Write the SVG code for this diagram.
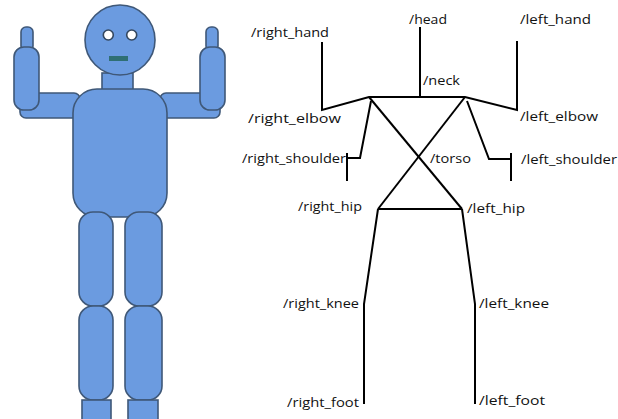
<svg xmlns="http://www.w3.org/2000/svg" width="618" height="419" viewBox="0 0 618 419">
  <style>
    .part { fill: #6b9be0; stroke: #3f5878; stroke-width: 1.6; }
    .bone { fill: none; stroke: #000; stroke-width: 2; stroke-linejoin: miter; stroke-linecap: butt; }
    .lbl { font-family: "Open Sans", "Liberation Sans", sans-serif; font-size: 13.5px; fill: #111; }
  </style>
  <rect width="618" height="419" fill="#fff"/>

  <!-- Robot figure -->
  <g id="robot">
    <g id="robot-arm-right">
      <rect class="part" x="20" y="93" width="60" height="25" rx="6"/>
      <rect class="part" x="21" y="27" width="12" height="24" rx="5"/>
      <rect class="part" x="14" y="47" width="25" height="63" rx="10"/>
    </g>
    <g id="robot-arm-left">
      <rect class="part" x="160" y="93" width="60" height="25" rx="6"/>
      <rect class="part" x="206" y="27" width="12" height="24" rx="5"/>
      <rect class="part" x="200" y="47" width="25" height="63" rx="10"/>
    </g>
    <g id="robot-neck">
      <rect class="part" x="102" y="73" width="31" height="17"/>
    </g>
    <g id="robot-head">
      <circle class="part" cx="120" cy="40" r="35"/>
      <circle cx="108.3" cy="35" r="5" fill="#fff" stroke="#33475f" stroke-width="1.6"/>
      <circle cx="131.7" cy="35" r="5" fill="#fff" stroke="#33475f" stroke-width="1.6"/>
      <rect x="109" y="56" width="19" height="5" fill="#2f6f74"/>
    </g>
    <g id="robot-torso">
      <rect class="part" x="73" y="89" width="94" height="128" rx="24"/>
    </g>
    <g id="robot-leg-right">
      <rect class="part" x="79" y="212" width="34" height="94" rx="14"/>
      <rect class="part" x="79" y="306" width="34" height="94" rx="14"/>
      <rect class="part" x="82" y="400" width="29" height="22"/>
    </g>
    <g id="robot-leg-left">
      <rect class="part" x="125" y="212" width="37" height="94" rx="14"/>
      <rect class="part" x="125" y="306" width="37" height="94" rx="14"/>
      <rect class="part" x="128" y="400" width="30" height="22"/>
    </g>
  </g>

  <!-- Skeleton links -->
  <g id="connectors">
    <polyline class="bone" points="322,42 322,110 369,97 465,97 517,110 517,41"/>
    <line class="bone" x1="420" y1="27" x2="420" y2="97"/>
    <line class="bone" x1="369" y1="97" x2="462" y2="209"/>
    <line class="bone" x1="465" y1="97" x2="378" y2="209"/>
    <polyline class="bone" points="371,101 360,158 347,158"/>
    <line class="bone" x1="347" y1="153" x2="347" y2="181"/>
    <polyline class="bone" points="467,101 489,159 511,159"/>
    <line class="bone" x1="511" y1="153" x2="511" y2="181"/>
    <line class="bone" x1="378" y1="209" x2="462" y2="209"/>
    <polyline class="bone" points="378,209 364,304 364,404"/>
    <polyline class="bone" points="462,209 475,304 475,404"/>
  </g>

  <!-- Joint names -->
  <g id="label-head"><text class="lbl" x="409" y="24" textLength="38" lengthAdjust="spacingAndGlyphs">/head</text></g>
  <g id="label-right-hand"><text class="lbl" x="251" y="37" textLength="78" lengthAdjust="spacingAndGlyphs">/right_hand</text></g>
  <g id="label-left-hand"><text class="lbl" x="520" y="24" textLength="71" lengthAdjust="spacingAndGlyphs">/left_hand</text></g>
  <g id="label-neck"><text class="lbl" x="423" y="85" textLength="37" lengthAdjust="spacingAndGlyphs">/neck</text></g>
  <g id="label-right-elbow"><text class="lbl" x="248" y="123" textLength="93" lengthAdjust="spacingAndGlyphs">/right_elbow</text></g>
  <g id="label-left-elbow"><text class="lbl" x="520" y="121" textLength="78" lengthAdjust="spacingAndGlyphs">/left_elbow</text></g>
  <g id="label-right-shoulder"><text class="lbl" x="242" y="163" textLength="104" lengthAdjust="spacingAndGlyphs">/right_shoulder</text></g>
  <g id="label-torso"><text class="lbl" x="430" y="163" textLength="41" lengthAdjust="spacingAndGlyphs">/torso</text></g>
  <g id="label-left-shoulder"><text class="lbl" x="521" y="164" textLength="96" lengthAdjust="spacingAndGlyphs">/left_shoulder</text></g>
  <g id="label-right-hip"><text class="lbl" x="298" y="211" textLength="64" lengthAdjust="spacingAndGlyphs">/right_hip</text></g>
  <g id="label-left-hip"><text class="lbl" x="467" y="213" textLength="58" lengthAdjust="spacingAndGlyphs">/left_hip</text></g>
  <g id="label-right-knee"><text class="lbl" x="283" y="308" textLength="76" lengthAdjust="spacingAndGlyphs">/right_knee</text></g>
  <g id="label-left-knee"><text class="lbl" x="479" y="308" textLength="70" lengthAdjust="spacingAndGlyphs">/left_knee</text></g>
  <g id="label-right-foot"><text class="lbl" x="287" y="407" textLength="72" lengthAdjust="spacingAndGlyphs">/right_foot</text></g>
  <g id="label-left-foot"><text class="lbl" x="479" y="405" textLength="66" lengthAdjust="spacingAndGlyphs">/left_foot</text></g>
</svg>
